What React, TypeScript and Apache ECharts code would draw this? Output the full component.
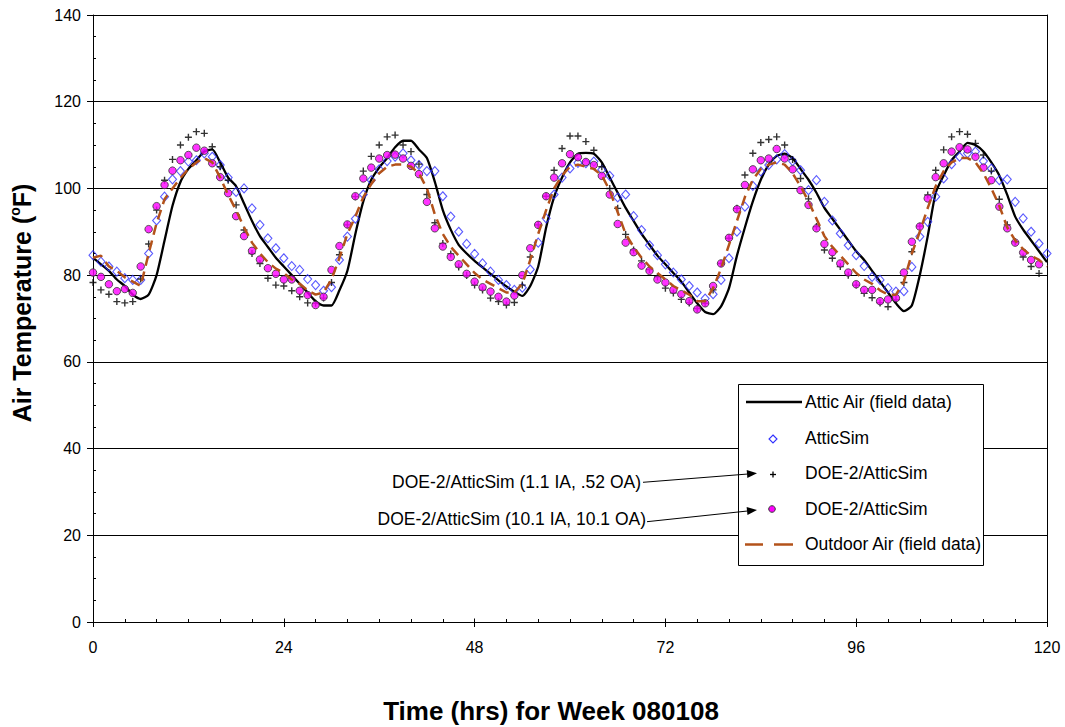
import React, { useEffect, useRef } from 'react';
import * as echarts from 'echarts';

// Hourly time steps (hrs) for week 080108
const hours: number[] = Array.from({ length: 121 }, (_, i) => i);

const xTicks = [0, 24, 48, 72, 96, 120];
const yTicks = [0, 20, 40, 60, 80, 100, 120, 140];

// Attic Air (field data)
const atticAir: number[] = [
  84, 82.5, 81, 79, 77.5, 75.5, 74.5, 75.5, 80, 88,
  96, 101.5, 104.5, 106.5, 108.5, 109, 106, 102.5, 100.5, 96.5,
  92.5, 89, 86.5, 84, 82, 80, 78, 76, 74, 73,
  73, 76.5, 81, 89.5, 97, 102, 104.8, 107, 109.5, 111,
  111, 109, 107, 101.5, 95, 90.5, 87, 85, 83.3, 81.8,
  80.3, 78.8, 77.4, 76.2, 75.2, 77.5, 82, 91, 98, 102.5,
  106, 108, 108.2, 108, 106, 102.5, 99, 95.5, 92.5, 89.5,
  87, 84.5, 82.5, 80.5, 78.5, 76, 73.5, 71.5, 71, 72.8,
  77, 84.5, 91, 97, 102, 105.5, 107.5, 108, 107, 104.5,
  102, 99, 95.5, 93, 90.5, 88, 85.5, 83.5, 81, 78.5,
  76, 73.5, 71.7, 73, 80, 89, 99, 103, 106.5, 108.5,
  110.5, 110, 108.5, 106, 103, 98.5, 93.5, 90.5, 88, 85.5,
  83,
];

// AtticSim
const atticSim: number[] = [
  84.6, 83.1, 82, 80.8, 79.3, 78.9, 78.9, 85, 92.6, 98.1,
  102.1, 104, 106.2, 106.5, 108.1, 107.3, 105.4, 102.5, 99.2, 100,
  95.4, 91.6, 88.5, 86.2, 83.9, 82.1, 81.2, 79.1, 77.7, 76.4,
  77.2, 83.5, 88.9, 93, 98.6, 101.9, 104.4, 106.3, 107.3, 108.1,
  106.5, 105.4, 104, 104, 98.2, 93.5, 90, 87.2, 84.9, 82.7,
  80.8, 78.9, 77.7, 76.6, 77.1, 81.3, 87.5, 93.1, 98.6, 102.5,
  104.6, 105.9, 105.8, 106.2, 104.3, 102.9, 97.9, 98.6, 93.6, 90.4,
  86.9, 84.6, 82.5, 80.6, 79, 77.5, 76, 74.6, 75.6, 78.9,
  83.9, 90, 95.8, 100.6, 103.9, 105.4, 106.7, 107.9, 106.3, 104.2,
  99.6, 101.9, 96.9, 92.6, 89.6, 86.9, 84.6, 82.1, 79.6, 78.9,
  77, 76.2, 76.3, 81.9, 88.9, 92.3, 98.1, 102.3, 105.6, 107.3,
  108.1, 108.5, 106.3, 104.6, 101.9, 102.1, 96.9, 93.1, 90, 87.3,
  85,
];

// DOE-2/AtticSim (1.1 IA, .52 OA)
const doe2LowLeak: (number | null)[] = [
  78.3, 76.6, 75.6, 73.9, 73.6, 73.9, 79.1, 87.2, 95, 101.9,
  106.7, 110, 111.8, 113.1, 112.7, 109.6, 105, 101.9, 96.2, 90.4,
  85, 82.7, 79.3, 77.7, 77.5, 76.4, 75, 73.6, 73.5, 74.7,
  78.3, 84.7, 91.6, 98.1, 104, 107.4, 110, 111.9, 112.3, 110,
  108.5, 105.6, 98.6, 92.1, 87.3, 84.9, 81.9, 79.9, 77.7, 76.6,
  74.7, 73.9, 73.1, 73.7, 77.7, 84.2, 91.6, 98.2, 104.2, 109.2,
  112.1, 112.1, 110.8, 108.8, 105, 100, 95.4, 89.4, 85.8, 83.3,
  81.3, 79.6, 77, 75.9, 74.4, 73.6, 72.3, 73.5, 76.6, 82.7,
  88.5, 95.4, 103.1, 108.1, 110.6, 111.3, 111.9, 110, 106.7, 102.3,
  97.6, 91.2, 85.8, 83.9, 82, 80, 77.7, 75.8, 74.8, 73.6,
  72.7, 74.3, 78.3, 85.4, 91.3, 98.5, 104.2, 108.9, 111.9, 113.1,
  112.5, 110.4, 107.7, 104, 97.5, 91.6, 87.7, 84.2, 82, 80.4,
  null,
];

// DOE-2/AtticSim (10.1 IA, 10.1 OA)
const doe2HighLeak: (number | null)[] = [
  80.6, 79.6, 77.9, 76.3, 76.8, 75.9, 82, 90.6, 95.9, 100.8,
  104.1, 106.5, 107.7, 109.4, 108.7, 105.8, 102.6, 98.9, 93.6, 89,
  85.6, 83.6, 81.6, 80.3, 79, 79, 76.4, 75.4, 73.1, 75,
  81.2, 86.7, 91.7, 98.2, 102.3, 104.8, 106.9, 107.7, 107.8, 106.9,
  105.2, 103.3, 96.9, 90.8, 86.6, 84.2, 82.5, 80.3, 78.5, 77.2,
  76.2, 75, 73.9, 75.3, 80, 86.2, 91.6, 98.2, 102.5, 105.8,
  107.9, 107.2, 106.1, 105.4, 102.9, 98.6, 91.8, 87.5, 85.3, 82.2,
  81, 79, 78.3, 76.6, 75.6, 74, 72.1, 73.5, 77.5, 82.7,
  88.6, 95.2, 100.8, 104.4, 106.5, 106.9, 109.1, 106.9, 104.4, 99.6,
  96.2, 90.8, 87.2, 85.3, 82.7, 80.6, 77.9, 76.6, 76.6, 74,
  74.4, 74.7, 80.6, 87.7, 91.2, 97.7, 102.6, 105.8, 108.5, 109.5,
  109, 107.3, 104.8, 101.9, 95.8, 90.8, 87.5, 85.2, 83.5, 82.5,
  null,
];

// Outdoor Air (field data)
const outdoorAir: number[] = [
  84, 84.5, 82, 81, 79.5, 78.5, 77.5, 85, 92, 97.5,
  100, 102.4, 104.5, 106, 107, 106, 102.5, 98.5, 95, 91,
  87.5, 85, 83, 81.5, 80.5, 79, 78, 76.5, 75.5, 76,
  79, 84, 89.5, 93.5, 98, 101, 103.5, 105, 105.5, 105.5,
  105, 103.5, 100, 94, 89.5, 86.5, 84.5, 82.5, 80.5, 79,
  78, 77, 76, 76, 78, 83.5, 89.5, 95, 100, 103,
  105, 105.5, 105, 104.5, 103, 99.5, 94.5, 89.5, 86.5, 84,
  82, 80.5, 79, 77.5, 76.5, 75.5, 74, 74, 77, 81.5,
  87, 92.5, 98, 102, 104.5, 105.5, 106, 105.5, 103.5, 100.5,
  97, 93, 89, 86.5, 84.5, 82.5, 80.5, 79, 78, 76.5,
  75.5, 75.5, 78.5, 85, 90, 95.5, 100.5, 104, 106, 107,
  107, 106, 103.5, 100, 96, 91, 88, 86, 84.5, 83.5,
  82,
];

const FONT = 'Arial, "Liberation Sans", sans-serif';
const PLUS_PATH = 'path://M4,0H6V4H10V6H6V10H4V6H0V4H4Z';
const BLUE = '#2f2fff';
const BROWN = '#b3521a';

const pairs = (arr: (number | null)[]) =>
  hours.map((h, i) => [h, arr[i]]).filter((p) => p[1] !== null && p[1] !== undefined);

function arrow(x1: number, y1: number, x2: number, y2: number) {
  const dx = x2 - x1;
  const dy = y2 - y1;
  const L = Math.hypot(dx, dy);
  const ux = dx / L;
  const uy = dy / L;
  const bx = x2 - 10 * ux;
  const by = y2 - 10 * uy;
  const nx = -uy;
  const ny = ux;
  return [
    { type: 'line', z: 20, shape: { x1, y1, x2: bx, y2: by }, style: { stroke: '#000', lineWidth: 1 } },
    {
      type: 'polygon',
      z: 20,
      shape: { points: [[x2, y2], [bx + 4 * nx, by + 4 * ny], [bx - 4 * nx, by - 4 * ny]] },
      style: { fill: '#000' },
    },
  ];
}

function txt(text: string, x: number, y: number, align = 'left', size = 17.5, weight = 'normal') {
  return {
    type: 'text',
    z: 20,
    x,
    y,
    style: {
      text,
      fill: '#000',
      font: `${weight} ${size}px ${FONT}`,
      fontSize: size,
      fontWeight: weight,
      fontFamily: FONT,
      align,
      textAlign: align,
      verticalAlign: 'middle',
      textVerticalAlign: 'middle',
    },
  };
}

export default function App() {
  const ref = useRef<HTMLDivElement>(null);

  useEffect(() => {
    if (!ref.current) return;
    const chart = echarts.init(ref.current, undefined, { renderer: 'svg' });

    const legendX = 805;
    const graphic: any[] = [
      // y-axis title
      {
        type: 'text',
        z: 20,
        x: 22,
        y: 303,
        rotation: Math.PI / 2,
        style: {
          text: '{a|Air Temperature (}{s|o}{a|F)}',
          fill: '#000',
          align: 'center',
          textAlign: 'center',
          verticalAlign: 'middle',
          textVerticalAlign: 'middle',
          rich: {
            a: { fontSize: 25, fontWeight: 'bold', fontFamily: FONT, fill: '#000', lineHeight: 28 },
            s: { fontSize: 14, fontWeight: 'bold', fontFamily: FONT, fill: '#000', verticalAlign: 'top', lineHeight: 28 },
          },
        },
      },
      // x-axis title
      txt('Time (hrs) for Week 080108', 551, 711, 'center', 26, 'bold'),
      // legend box
      {
        type: 'rect',
        z: 15,
        shape: { x: 738.5, y: 384.5, width: 245, height: 181 },
        style: { fill: '#fff', stroke: '#000', lineWidth: 1 },
      },
      { type: 'line', z: 20, shape: { x1: 746, y1: 402, x2: 802, y2: 402 }, style: { stroke: '#000', lineWidth: 2.5 } },
      txt('Attic Air (field data)', legendX, 402),
      {
        type: 'polygon',
        z: 20,
        shape: { points: [[773, 435], [777, 439], [773, 443], [769, 439]] },
        style: { fill: 'none', stroke: BLUE, lineWidth: 1.1 },
      },
      txt('AtticSim', legendX, 438),
      { type: 'line', z: 20, shape: { x1: 770, y1: 474.5, x2: 776, y2: 474.5 }, style: { stroke: '#000', lineWidth: 1.3 } },
      { type: 'line', z: 20, shape: { x1: 773, y1: 471.5, x2: 773, y2: 477.5 }, style: { stroke: '#000', lineWidth: 1.3 } },
      txt('DOE-2/AtticSim', legendX, 473),
      { type: 'circle', z: 20, shape: { cx: 772, cy: 509, r: 3.3 }, style: { fill: '#ff00ff', stroke: '#333', lineWidth: 1 } },
      txt('DOE-2/AtticSim', legendX, 509),
      { type: 'line', z: 20, shape: { x1: 745, y1: 544.5, x2: 763, y2: 544.5 }, style: { stroke: BROWN, lineWidth: 2.5 } },
      { type: 'line', z: 20, shape: { x1: 774, y1: 544.5, x2: 793, y2: 544.5 }, style: { stroke: BROWN, lineWidth: 2.5 } },
      txt('Outdoor Air (field data)', legendX, 544),
      // annotations
      txt('DOE-2/AtticSim (1.1 IA, .52 OA)', 641, 481.5, 'right'),
      txt('DOE-2/AtticSim (10.1 IA, 10.1 OA)', 646, 518.5, 'right'),
      ...arrow(643, 482.3, 757, 473.3),
      ...arrow(647, 521.7, 757, 510),
    ];

    const option: any = {
      animation: false,
      backgroundColor: '#fff',
      grid: { left: 93, right: 18, top: 15, bottom: 105, containLabel: false },
      xAxis: [
        {
          type: 'value',
          min: xTicks[0],
          max: xTicks[xTicks.length - 1],
          interval: 24,
          axisLine: { show: true, lineStyle: { color: '#000', width: 1 } },
          axisTick: { show: true, inside: false, length: 5, lineStyle: { color: '#000' } },
          minorTick: { show: false },
          splitLine: { show: false },
          axisLabel: { color: '#000', fontSize: 16, fontFamily: FONT, margin: 17 },
        },
        {
          type: 'value',
          min: xTicks[0],
          max: xTicks[xTicks.length - 1],
          interval: 24,
          position: 'bottom',
          axisLine: { show: false },
          axisTick: { show: true, inside: true, length: 3.5, lineStyle: { color: '#000' } },
          minorTick: { show: true, splitNumber: 6, length: 3, lineStyle: { color: '#000' } },
          splitLine: { show: false },
          axisLabel: { show: false },
        },
      ],
      yAxis: [
        {
          type: 'value',
          min: yTicks[0],
          max: yTicks[yTicks.length - 1],
          interval: 20,
          axisLine: { show: true, lineStyle: { color: '#000', width: 1 } },
          axisTick: { show: true, inside: false, length: 6, lineStyle: { color: '#000' } },
          splitLine: { show: true, lineStyle: { color: '#000', width: 1 } },
          axisLabel: { color: '#000', fontSize: 16, fontFamily: FONT, margin: 12 },
        },
        {
          type: 'value',
          min: yTicks[0],
          max: yTicks[yTicks.length - 1],
          interval: 20,
          position: 'left',
          axisLine: { show: false },
          axisTick: { show: false, inside: true, length: 3 },
          minorTick: { show: true, splitNumber: 4, length: 3, lineStyle: { color: '#000' } },
          splitLine: { show: false },
          axisLabel: { show: false },
        },
        {
          type: 'value',
          min: yTicks[0],
          max: yTicks[yTicks.length - 1],
          interval: 20,
          position: 'right',
          axisLine: { show: true, lineStyle: { color: '#000', width: 1 } },
          axisTick: { show: false },
          splitLine: { show: false },
          axisLabel: { show: false },
        },
      ],
      series: [
        {
          name: 'Attic Air (field data)',
          type: 'line',
          data: pairs(atticAir),
          showSymbol: false,
          symbol: 'none',
          smooth: 0.2,
          lineStyle: { color: '#000', width: 2.3 },
          z: 3,
        },
        {
          name: 'AtticSim',
          type: 'scatter',
          data: pairs(atticSim),
          symbol: 'diamond',
          symbolSize: [8, 9],
          itemStyle: { color: 'rgba(0,0,0,0)', borderColor: BLUE, borderWidth: 1.1 },
          z: 4,
        },
        {
          name: 'DOE-2/AtticSim (1.1 IA, .52 OA)',
          type: 'scatter',
          data: pairs(doe2LowLeak),
          symbol: PLUS_PATH,
          symbolSize: 7,
          itemStyle: { color: '#000' },
          z: 5,
        },
        {
          name: 'DOE-2/AtticSim (10.1 IA, 10.1 OA)',
          type: 'scatter',
          data: pairs(doe2HighLeak),
          symbol: 'circle',
          symbolSize: 7.5,
          itemStyle: { color: '#ff00ff', borderColor: '#333', borderWidth: 1 },
          z: 6,
        },
        {
          name: 'Outdoor Air (field data)',
          type: 'line',
          data: pairs(outdoorAir),
          showSymbol: false,
          symbol: 'none',
          lineStyle: { color: BROWN, width: 2.5, type: [10, 6] },
          z: 7,
        },
      ],
      graphic,
    };

    chart.setOption(option);
    return () => chart.dispose();
  }, []);

  return (
    <div
      ref={ref}
      style={{ position: 'absolute', left: 0, top: 0, width: 1065, height: 727, background: '#fff' }}
    />
  );
}
